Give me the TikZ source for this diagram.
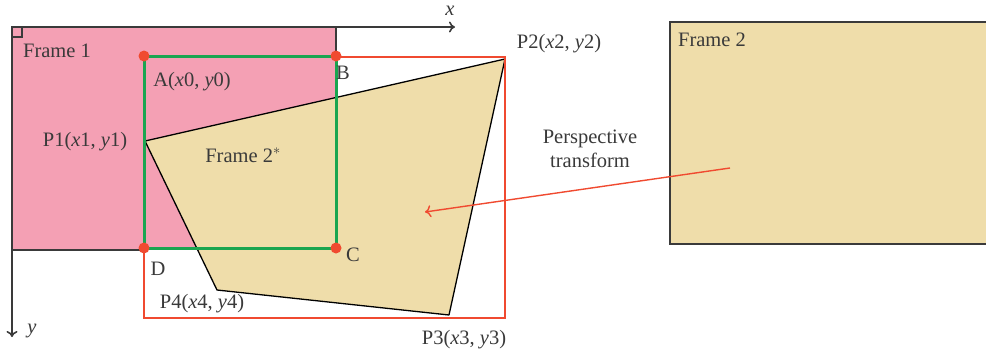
\documentclass[tikz,border=0pt]{standalone}
\usepackage{fontspec}
\setmainfont{Liberation Serif}
\usetikzlibrary{arrows.meta}
\definecolor{pinkf}{HTML}{F4A0B4}
\definecolor{tanf}{HTML}{EFDDAA}
\definecolor{greenl}{HTML}{1AA550}
\definecolor{redl}{HTML}{F04A30}
\definecolor{darkl}{HTML}{3A3A3A}
\tikzset{
  lbl/.style={font=\fontsize{20.5}{24}\selectfont, text=darkl, inner sep=0pt},
  dotpt/.style={circle, fill=redl, inner sep=0pt, minimum size=11pt},
}
\begin{document}
\begin{tikzpicture}[x=1pt,y=-1pt]
\useasboundingbox (0,0) rectangle (986,357);
% Frame 1
\fill[pinkf] (12,27) rectangle (336,250);
% Frame 2*
\coordinate (P1) at (145,141);
\coordinate (P2) at (505,59);
\coordinate (P3) at (449,315);
\coordinate (P4) at (217,290);
\filldraw[fill=tanf, draw=black, line width=1.3pt, line join=round] (P1) -- (P2) -- (P3) -- (P4) -- cycle;
\draw[darkl, line width=1.6pt] (12,250) -- (144,250);
\draw[darkl, line width=1.6pt] (336,27) -- (336,56);
% axes
\coordinate (O) at (12,27);
\coordinate (Xe) at (455,27);
\coordinate (Ye) at (12,337);
\draw[darkl, line width=1.6pt, -{To[length=6pt,width=11pt]}] (O) -- (Xe);
\draw[darkl, line width=1.6pt, -{To[length=6pt,width=11pt]}] (O) -- (Ye);
\draw[darkl, line width=1.2pt] (12,27) rectangle (22,37);
% red bounding rect
\draw[redl, line width=1.5pt] (144,57) rectangle (505,318);
% green rect
\coordinate (A) at (144,56);
\coordinate (B) at (336,56);
\coordinate (C) at (336,248);
\coordinate (D) at (144,248);
\draw[greenl, line width=3pt] (A) -- (B) -- (C) -- (D) -- cycle;
\node[dotpt] at (A) {};
\node[dotpt] at (B) {};
\node[dotpt] at (C) {};
\node[dotpt] at (D) {};
% Frame 2
\fill[tanf] (670,22) rectangle (986,244);
\draw[darkl, line width=1.6pt] (987,22) -- (670,22) -- (670,244) -- (987,244);
% arrow
\coordinate (S) at (730,168);
\coordinate (T) at (425,212);
\draw[redl, line width=1.4pt, -{To[length=6pt,width=12pt]}] (S) -- (T);
% labels
\node[lbl] (lx) at (450,11) {\itshape x};
\node[lbl] (ly) at (32,331) {\itshape y};
\node[lbl] (lf1) at (57,51) {Frame 1};
\node[lbl] (la) at (192,82) {A(\textit{x}0, \textit{y}0)};
\node[lbl] (lb) at (343,73) {B};
\node[lbl] (lp1) at (85,142) {P1(\textit{x}1, \textit{y}1)};
\node[lbl] (lf2s) at (243,155) {Frame 2$^{*}$};
\node[lbl] (lc) at (353,255) {C};
\node[lbl] (ld) at (158,269) {D};
\node[lbl] (lp4) at (202,304) {P4(\textit{x}4, \textit{y}4)};
\node[lbl] (lp3) at (464,340) {P3(\textit{x}3, \textit{y}3)};
\node[lbl] (lp2) at (559,44) {P2(\textit{x}2, \textit{y}2)};
\node[lbl, align=center] (lpt) at (590,149) {Perspective\\transform};
\node[lbl] (lf2) at (712,40) {Frame 2};
\end{tikzpicture}
\end{document}
